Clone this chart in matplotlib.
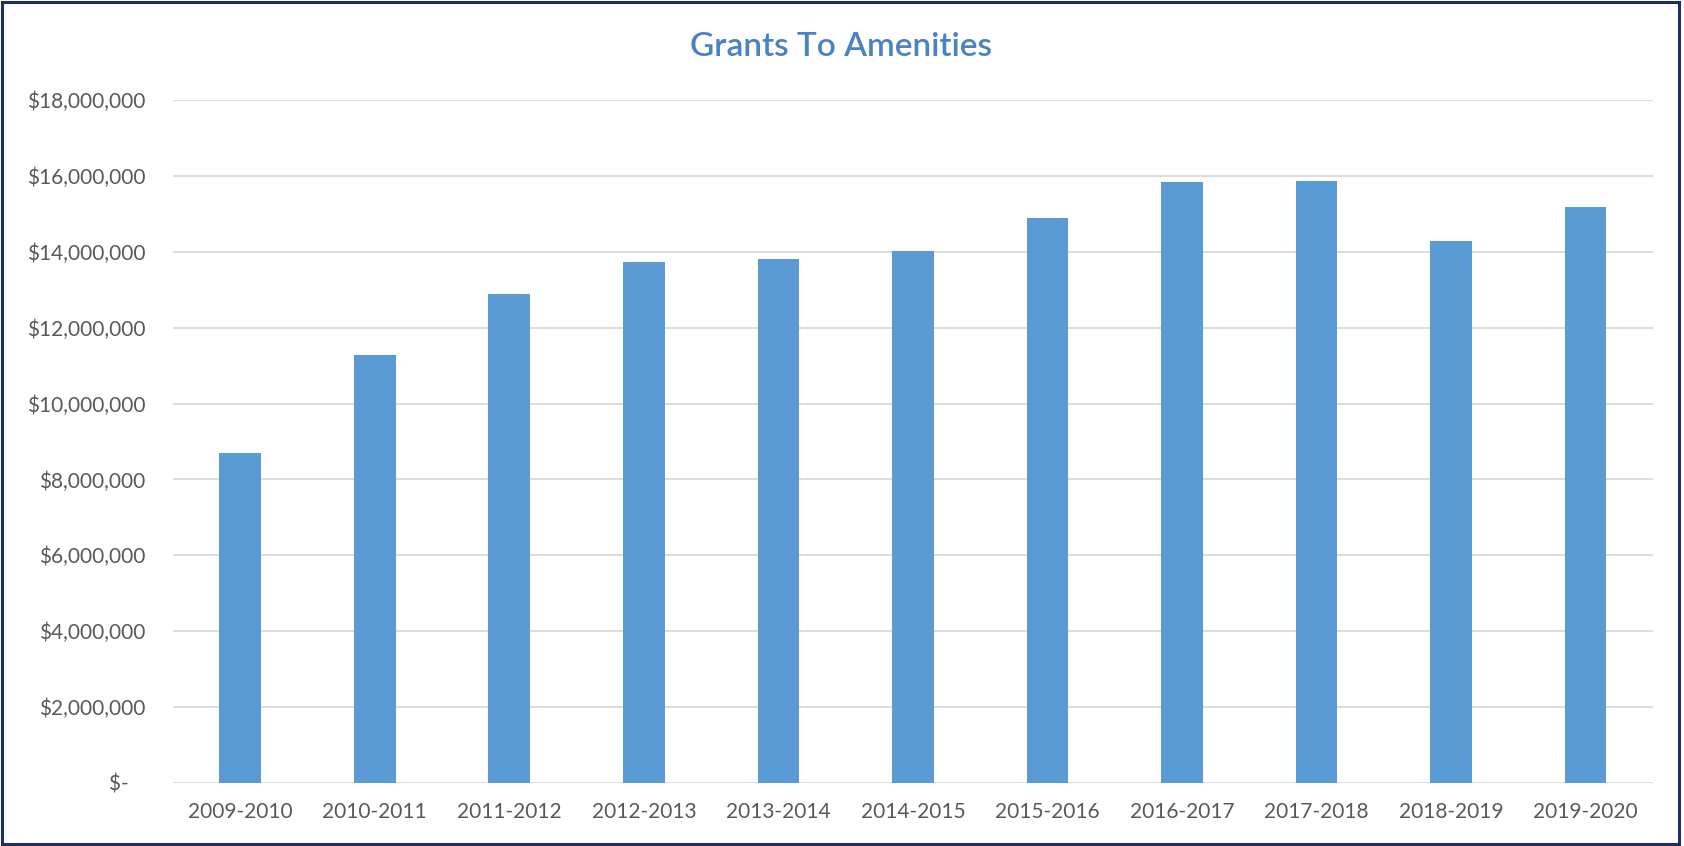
import matplotlib
matplotlib.use("Agg")
import matplotlib.pyplot as plt
from matplotlib.ticker import FuncFormatter
from matplotlib.patches import Rectangle

categories = ["2009-2010", "2010-2011", "2011-2012", "2012-2013", "2013-2014",
              "2014-2015", "2015-2016", "2016-2017", "2017-2018", "2018-2019", "2019-2020"]
grants = [8700000, 11290000, 12880000, 13740000, 13800000,
          14010000, 14880000, 15830000, 15860000, 14290000, 15170000]
yticks = [0, 2000000, 4000000, 6000000, 8000000, 10000000,
          12000000, 14000000, 16000000, 18000000]

plt.rcParams['font.family'] = ['Lato', 'DejaVu Sans']

fig = plt.figure(figsize=(16.84, 8.46), dpi=100)
ax = fig.add_axes([0.1027, 0.0745, 0.8788, 0.8073])

x = list(range(len(categories)))
ax.bar(x, grants, width=0.31, color='#5B9BD5', zorder=3)

ax.set_xlim(-0.5, len(categories) - 0.5)
ax.set_ylim(0, 18000000)
ax.set_yticks(yticks)
ax.yaxis.set_major_formatter(FuncFormatter(lambda v, p: "$-   " if v == 0 else "${:,.0f}".format(v)))
ax.set_xticks(x)
ax.set_xticklabels(categories)

ax.grid(axis='y', color='#D9D9D9', linewidth=1.3, zorder=0)
for s in ax.spines.values():
    s.set_visible(False)
ax.tick_params(axis='both', length=0, colors='#595959', labelsize=15)
ax.tick_params(axis='y', pad=20)
ax.tick_params(axis='x', pad=14)

fig.text(0.4995, 0.945, "Grants To Amenities", ha='center', va='center',
         fontsize=24, color='#4A82C3', fontweight='semibold')

fig.patches.append(Rectangle((0.001, 0.002), 0.996, 0.996, transform=fig.transFigure,
                             fill=False, edgecolor='#1F2F5F', linewidth=2.2))

fig.savefig("out.png", dpi=100, facecolor='white')
